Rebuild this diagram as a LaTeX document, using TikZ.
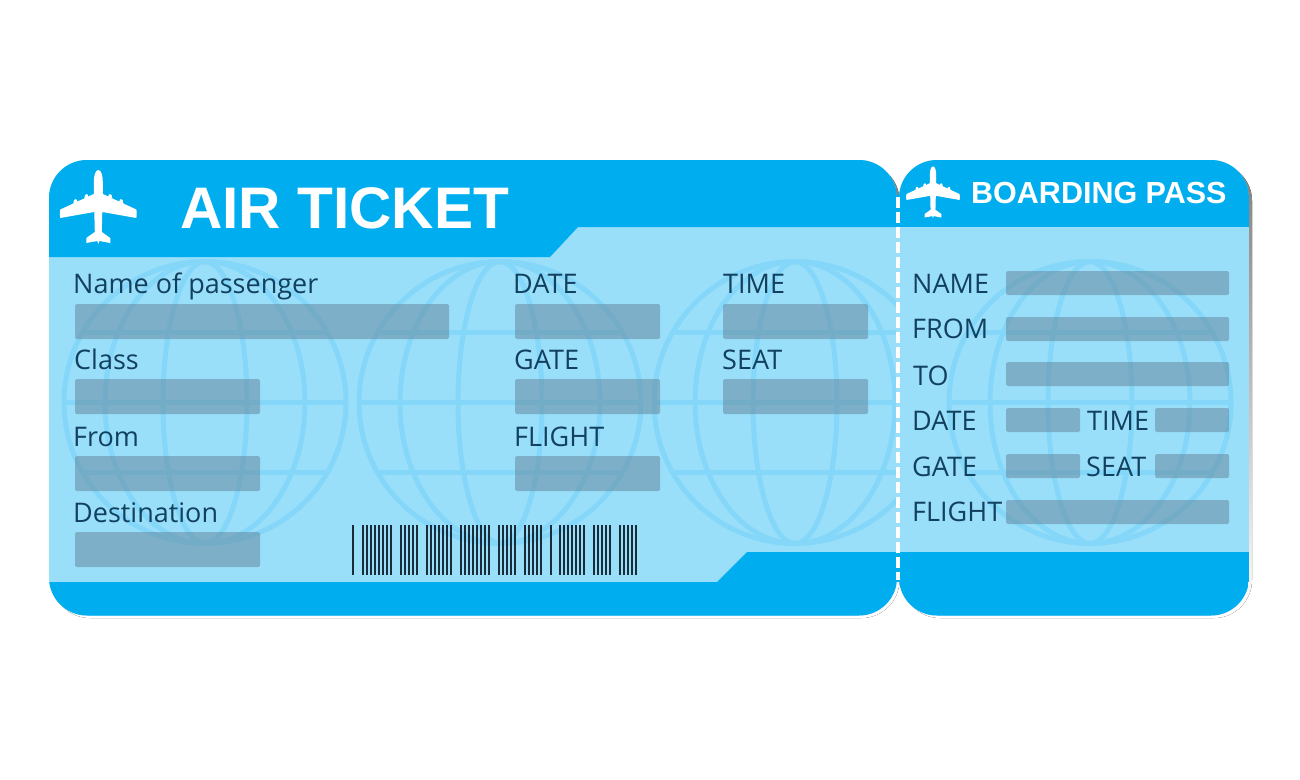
\documentclass[tikz,border=0pt]{standalone}
\usepackage{fontspec}
\setmainfont{Open Sans}
\newfontfamily\headfont{Liberation Sans}
\definecolor{hdr}{HTML}{00AEEF}
\definecolor{body}{HTML}{9ADFFA}
\definecolor{glb}{HTML}{84D7F8}
\definecolor{bar}{HTML}{628398}
\definecolor{ink}{HTML}{12405F}
\definecolor{shade}{HTML}{C9D1D5}
\definecolor{barcode}{HTML}{1A2B3A}
\tikzset{
 lbl/.style={anchor=base west,inner sep=0pt,text=ink,font=\fontsize{27}{27}\selectfont},
 field/.style={fill=bar,fill opacity=0.5,rounded corners=1.5pt},
 glline/.style={draw=glb,line width=5pt},
}
\newcommand{\myglobe}[2]{%
 \begin{scope}[shift={(#1,#2)}]
 \draw[glline] (0,0) circle[radius=141];
 \draw[glline] (0,0) ellipse[x radius=100,y radius=141];
 \draw[glline] (0,0) ellipse[x radius=42,y radius=141];
 \draw[glline] (-141,0) -- (141,0);
 \draw[glline] (-120,-70) -- (120,-70);
 \draw[glline] (-120,70) -- (120,70);
 \end{scope}}
\newcommand{\myplane}[3]{%
 \begin{scope}[shift={(#1,#2)},scale=#3]
 \fill[white] (0,-38) .. controls (3,-38) and (4.5,-32) .. (4.5,-26)
  -- (4.5,-14) -- (10,-11.5) .. controls (10,-15) and (14,-15) .. (14,-9.5) -- (21,-6.5) .. controls (21,-10) and (25,-10) .. (25,-4.5) -- (38,1.5)
  .. controls (38.5,3) and (38.5,8) .. (38,10) -- (4,4) -- (3.5,24) -- (12,30) -- (12,35) -- (1,33) -- (0,36)
  -- (-1,33) -- (-12,35) -- (-12,30) -- (-3.5,24) -- (-4,4) -- (-38,10)
  .. controls (-38.5,8) and (-38.5,3) .. (-38,1.5)
  -- (-25,-4.5) .. controls (-25,-10) and (-21,-10) .. (-21,-6.5) -- (-14,-9.5) .. controls (-14,-15) and (-10,-15) .. (-10,-11.5) -- (-4.5,-14) -- (-4.5,-26)
  .. controls (-4.5,-32) and (-3,-38) .. (0,-38) -- cycle;
 \end{scope}}
\begin{document}
\begin{tikzpicture}[x=1pt,y=-1pt]
\useasboundingbox (0,0) rectangle (1300,779);
\fill[white] (0,0) rectangle (1300,779);
% shadows
\fill[shade,rounded corners=38pt] (52,163) rectangle (899.5,618);
\fill[shade,rounded corners=38pt] (902,163) rectangle (1252,618);
% left body
\begin{scope}
\clip[rounded corners=38pt] (49,160) rectangle (897,615.5);
\fill[body] (49,160) rectangle (897,615.5);
\myglobe{205}{402.5}\myglobe{500}{402.5}\myglobe{795}{402.5}
\fill[hdr] (49,160) -- (897,160) -- (897,227) -- (578,227) -- (550,257) -- (49,257) -- cycle;
\fill[hdr] (49,582) -- (717,582) -- (747,552) -- (897,552) -- (897,616) -- (49,616) -- cycle;
\end{scope}
% right body
\begin{scope}
\clip[rounded corners=38pt] (899,160) rectangle (1249,615.5);
\fill[body] (899,160) rectangle (1249,615.5);
\myglobe{1090}{402.5}
\fill[hdr] (899,160) rectangle (1249,227);
\fill[hdr] (899,552) rectangle (1249,616);
\end{scope}
% joint between the two parts
\fill[hdr] (896,195) rectangle (900,227);
\fill[body] (896,227) rectangle (900,552);
\fill[hdr] (896,552) rectangle (900,582);
% perforation
\draw[white,line width=4pt,dash pattern=on 10.5pt off 4.5pt] (898,197) -- (898,580);
% fields
\foreach \x/\y/\w/\h in {75/304/374/35,75/379/185/35,75/456/185/35,75/532/185/35,
  515/304/145/35,515/379/145/35,515/456/145/35,723/304/145/35,723/379/145/35,
  1006/271/223/24,1006/317/223/24,1006/362/223/24,1006/408/74/24,1155/408/74/24,
  1006/454/74/24,1155/454/74/24,1006/500/223/24}
  \fill[field] (\x,\y) rectangle ++(\w,\h);
% planes
\myplane{98.3}{208}{1}
\myplane{933}{193}{0.7}
% titles
\node[anchor=base west,inner sep=0pt,text=white,font=\headfont\bfseries\fontsize{58.6}{58.6}\selectfont] (t1) at (180,228) {AIR TICKET};
\node[anchor=base west,inner sep=0pt,text=white,font=\headfont\bfseries\fontsize{30.5}{30.5}\selectfont] (t2) at (971,203) {BOARDING PASS};
% labels
\foreach \n/\x/\y/\t in {a/73/293/Name of passenger,b/74/369/Class,c/73/446/From,d/73/522/Destination,
 e/513/293/DATE,f/514/369/GATE,g/514/446/FLIGHT,h/723/293/TIME,i/722/369/SEAT,
 j/912/293/NAME,k/912/338/FROM,l/913/385/TO,m/912/430/DATE,n/1087/430/TIME,
 o/912/476/GATE,p/1086/476/SEAT,q/912/521/FLIGHT}
 \node[lbl] (\n) at (\x,\y) {\t};
% barcode
\foreach \s/\n in {352/1,361.7/8,400/5,425.7/7,460/8,497.7/5,524/5,549.7/1,559.3/7,593.3/5,619.3/5}{
  \foreach \k in {1,...,\n}{
   \fill[barcode] ({\s+(\k-1)*4},525) rectangle ++(2,49.5);
  }
}
\end{tikzpicture}
\end{document}
